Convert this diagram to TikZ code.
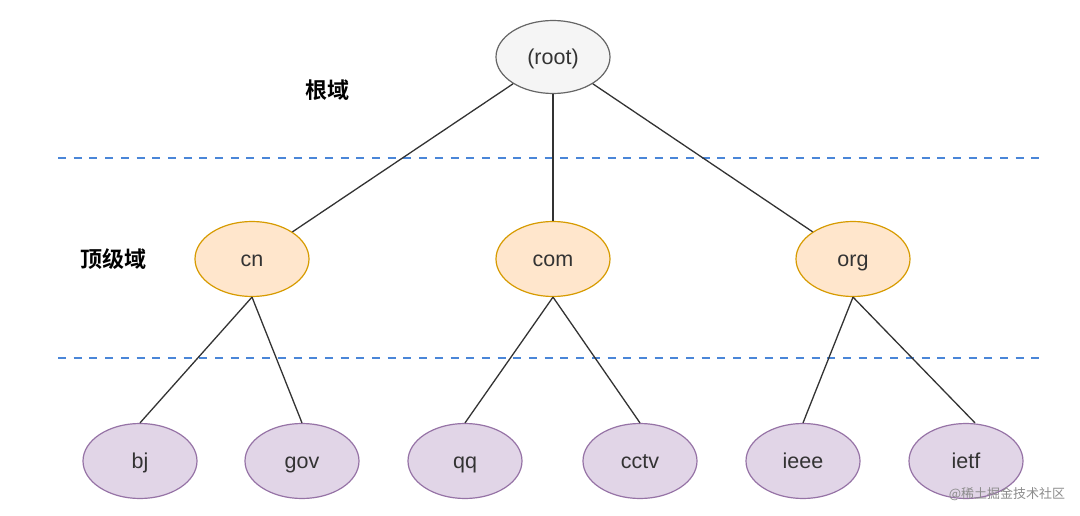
\documentclass[tikz,border=0pt]{standalone}
\usepackage{fontspec}
\setmainfont{Liberation Sans}
\newfontfamily\cjk{Noto Sans CJK SC}[BoldFont={Noto Sans CJK SC Bold}]
\usetikzlibrary{shapes.geometric}
\definecolor{rootfill}{HTML}{F5F5F5}
\definecolor{rootline}{HTML}{666666}
\definecolor{tldfill}{HTML}{FFE6CC}
\definecolor{tldline}{HTML}{D79B00}
\definecolor{leaffill}{HTML}{E1D5E7}
\definecolor{leafline}{HTML}{9673A6}
\definecolor{dashblue}{HTML}{4A86D8}
\definecolor{txt}{HTML}{333333}
\tikzset{
  dom/.style={ellipse, minimum width=114pt, minimum height=75pt, inner sep=0pt, line width=1.2pt, text=txt, font=\fontsize{21.5}{24}\selectfont, text height=15pt, text depth=0pt},
  rootdom/.style={dom, draw=rootline, fill=rootfill, minimum height=73pt},
  tlddom/.style={dom, draw=tldline, fill=tldfill},
  leafdom/.style={dom, draw=leafline, fill=leaffill},
  edge/.style={draw=txt, line width=1.3pt},
  sep/.style={draw=dashblue, line width=2.5pt, dash pattern=on 8pt off 7.7pt},
  lvl/.style={font=\cjk\bfseries\fontsize{22}{25}\selectfont, text=black}
}
\begin{document}
\begin{tikzpicture}[x=1pt,y=-1pt]
\useasboundingbox[fill=white] (0,0) rectangle (1080,516);
\coordinate (s1a) at (58,158);
\coordinate (s1b) at (1047,158);
\coordinate (s2a) at (58,358);
\coordinate (s2b) at (1047,358);
\draw[sep] (s1a) -- (s1b);
\draw[sep] (s2a) -- (s2b);

\node[rootdom] (root) at (553,57) {(root)};
\node[tlddom] (cn) at (252,259) {cn};
\node[tlddom] (com) at (553,259) {com};
\node[tlddom] (org) at (853,259) {org};
\node[leafdom] (bj) at (140,461) {bj};
\node[leafdom] (gov) at (302,461) {gov};
\node[leafdom] (qq) at (465,461) {qq};
\node[leafdom] (cctv) at (640,461) {cctv};
\node[leafdom] (ieee) at (803,461) {ieee};
\node[leafdom] (ietf) at (966,461) {ietf};

\draw[edge] (root) -- (cn);
\draw[edge] (root) -- (com);
\draw[edge] (root) -- (org);
\draw[edge] (cn.south) -- (bj.north);
\draw[edge] (cn.south) -- (gov.north);
\draw[edge] (com.south) -- (qq.north);
\draw[edge] (com.south) -- (cctv.north);
\draw[edge] (org.south) -- (ieee.north);
\draw[edge] (org.south) -- ([xshift=9pt]ietf.north);

\node[lvl] (lroot) at (327,90) {根域};
\node[lvl] (ltld) at (113,259) {顶级域};
\node[font=\cjk\fontsize{13}{15}\selectfont, text=black!45] (wm) at (1007,494) {@稀土掘金技术社区};
\end{tikzpicture}
\end{document}
